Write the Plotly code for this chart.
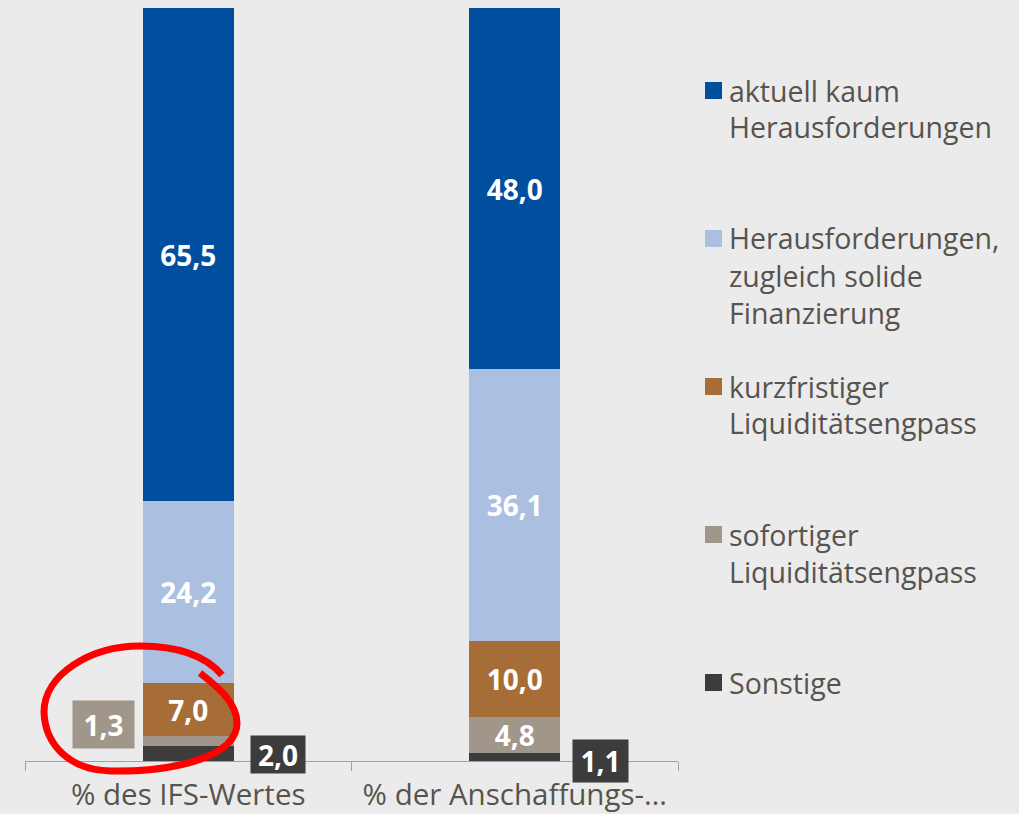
import plotly.graph_objects as go

# categories and series (bottom to top of the stack)
categories = ["% des IFS-Wertes", "% der Anschaffungs-…"]
sonstige = [2.0, 1.1]
sofortiger = [1.3, 4.8]
kurzfristiger = [7.0, 10.0]
herausforderungen = [24.2, 36.1]
kaum = [65.5, 48.0]

series = [
    ("Sonstige", sonstige, "#3c3c3c"),
    ("sofortiger<br>Liquiditätsengpass", sofortiger, "#a0968a"),
    ("kurzfristiger<br>Liquiditätsengpass", kurzfristiger, "#a66e36"),
    ("Herausforderungen,<br>zugleich solide<br>Finanzierung", herausforderungen, "#abc0e0"),
    ("aktuell kaum<br>Herausforderungen", kaum, "#004f9f"),
]

W, H = 1019, 814
L, R, T, B = 25, 341, 8, 53
BG = "#ebebeb"
TXT = "#57534f"
FONT = "Open Sans"


def fmt(v):
    return f"{v:.1f}".replace(".", ",")


def px(x):
    return (x - L) / (W - L - R)


def py(y):
    return (H - B - y) / (H - T - B)


fig = go.Figure()
for name, vals, color in series:
    # small segments get an outside label box instead
    txt = [fmt(v) if v >= 3 else "" for v in vals]
    fig.add_trace(go.Bar(
        x=categories, y=vals, name=name.replace("<br>", " "),
        marker=dict(color=color, line=dict(width=0)),
        text=txt, textposition="inside", insidetextanchor="middle",
        textfont=dict(color="white", size=28, family=FONT, weight="bold"),
        showlegend=False, hoverinfo="skip",
    ))

# outside labels for the thin segments
outside = [
    (0, sofortiger, 1, sonstige[0] + sofortiger[0] / 2, -85, 17, 61, 47),
    (0, sonstige, 0, sonstige[0] / 2, 90, -1, 54, 37),
    (1, sonstige, 0, sonstige[1] / 2, 86, -4, 55, 42),
]
for ci, vals, si, yc, xs, ys, w, h in outside:
    fig.add_annotation(
        x=categories[ci], y=yc, xref="x", yref="y", text=fmt(vals[ci]),
        showarrow=False, xshift=xs, yshift=ys, width=w, height=h,
        bgcolor=series[si][2], borderpad=0,
        font=dict(color="white", size=28, family=FONT, weight="bold"),
    )

# legend drawn by hand: square + lines of text, top item first
legend_y = [90.5, 238.5, 386.5, 534.5, 682.5]
for (name, vals, color), yc in zip(series[::-1], legend_y):
    fig.add_shape(type="rect", xref="paper", yref="paper",
                  x0=px(705), x1=px(722), y0=py(yc - 8.5), y1=py(yc + 8.5),
                  fillcolor=color, line=dict(width=0))
    for i, line in enumerate(name.split("<br>")):
        fig.add_annotation(
            x=px(727), y=py(yc + i * 37), xref="paper", yref="paper",
            text=line, showarrow=False, xanchor="left", yanchor="middle",
            font=dict(color=TXT, size=28.5, family=FONT),
        )

# hand drawn red circle
pts = [(200, 673), (222, 690), (237, 705), (237, 723),
       (237, 755), (180, 772), (110, 771),
       (70, 770), (45, 745), (44, 712),
       (44, 675), (90, 646), (140, 646),
       (175, 646), (205, 655), (222, 675)]
p = [f"{px(x):.5f},{py(y):.5f}" for x, y in pts]
path = "M " + p[0] + "".join(" C " + " ".join(p[i:i + 3]) for i in range(1, len(p), 3))
fig.add_shape(type="path", path=path, xref="paper", yref="paper",
              line=dict(color="#ff0000", width=7), layer="above")

fig.update_layout(
    barmode="stack", bargap=0.72,
    width=W, height=H,
    margin=dict(l=L, r=R, t=T, b=B),
    paper_bgcolor=BG, plot_bgcolor=BG,
    font=dict(family=FONT, color=TXT),
    uniformtext=dict(minsize=28, mode="show"),
)
fig.update_xaxes(
    showline=True, linecolor="#a0a0a0", linewidth=1,
    ticks="outside", tickson="boundaries", ticklen=9, tickcolor="#a0a0a0",
    tickfont=dict(size=29.5, color=TXT, family=FONT), showgrid=False,
    ticklabelstandoff=8, automargin=False,
)
fig.update_yaxes(range=[0, 100], visible=False, showgrid=False, automargin=False)

fig.write_html("out.html", config={"displayModeBar": False},
               post_script="document.body.style.margin='0';")
